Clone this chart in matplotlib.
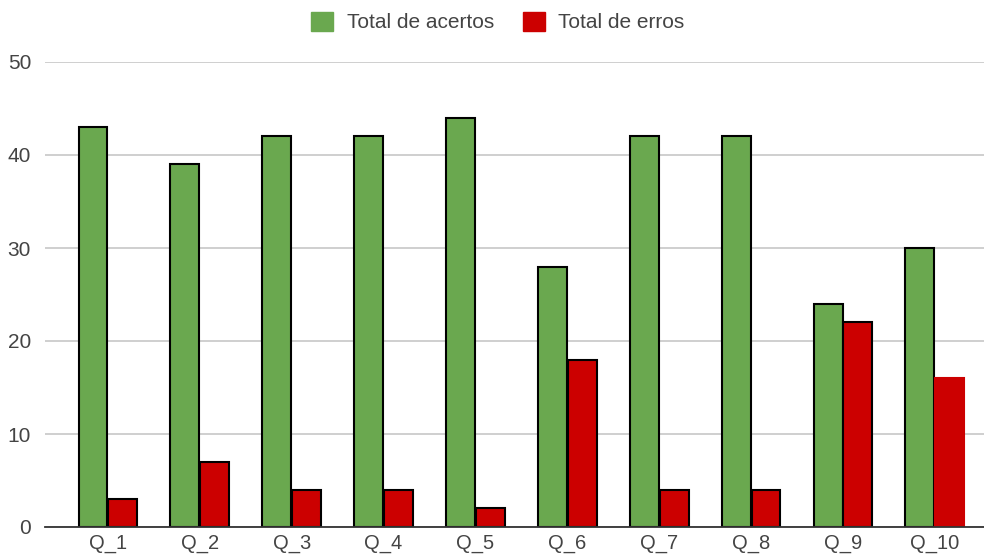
import matplotlib.pyplot as plt
import numpy as np
from matplotlib.patches import Patch

plt.rcParams['font.family'] = ['Liberation Sans', 'DejaVu Sans']

questions = ['Q_1', 'Q_2', 'Q_3', 'Q_4', 'Q_5', 'Q_6', 'Q_7', 'Q_8', 'Q_9', 'Q_10']
acertos = [43, 39, 42, 42, 44, 28, 42, 42, 24, 30]
erros = [3, 7, 4, 4, 2, 18, 4, 4, 22, 16]
# the last red bar has no black outline in the original
erros_edge = ['black'] * 9 + ['#cc0000']

green = '#6aa84f'
red = '#cc0000'
text_color = '#444444'

fig = plt.figure(figsize=(9.84, 5.55), dpi=100)
ax = fig.add_axes([45 / 984, 28 / 555, 939 / 984, 465 / 555])

x = np.arange(len(questions))
w = 0.315
ax.bar(x - w / 2 - 0.005, acertos, width=w, color=green, edgecolor='black',
       linewidth=1.5, zorder=3)
ax.bar(x + w / 2 + 0.005, erros, width=w, color=red, edgecolor=erros_edge,
       linewidth=1.5, zorder=3)

ax.set_xlim(-0.685, 9.535)
ax.set_ylim(0, 50)
ax.set_yticks([0, 10, 20, 30, 40, 50])
ax.set_xticks(x)
ax.set_xticklabels(questions)
ax.grid(axis='y', color='#cccccc', linewidth=1.3, zorder=0)
ax.set_axisbelow(True)

for s in ['top', 'right', 'left']:
    ax.spines[s].set_visible(False)
ax.spines['bottom'].set_color('#333333')
ax.spines['bottom'].set_linewidth(1.3)
ax.spines['bottom'].set_zorder(4)

ax.tick_params(axis='x', length=0, pad=5.0, labelsize=14.5, labelcolor=text_color)
ax.tick_params(axis='y', length=0, pad=10, labelsize=15, labelcolor=text_color)

handles = [Patch(facecolor=green, edgecolor=green, label='Total de acertos'),
           Patch(facecolor=red, edgecolor=red, label='Total de erros')]
fig.legend(handles=handles, loc='center', bbox_to_anchor=(0.506, 0.96), ncol=2,
           frameon=False, fontsize=15, labelcolor=text_color, handlelength=1.05,
           handleheight=1.0, handletextpad=0.65, columnspacing=1.4)

fig.savefig('out.png', dpi=100)
plt.close()
